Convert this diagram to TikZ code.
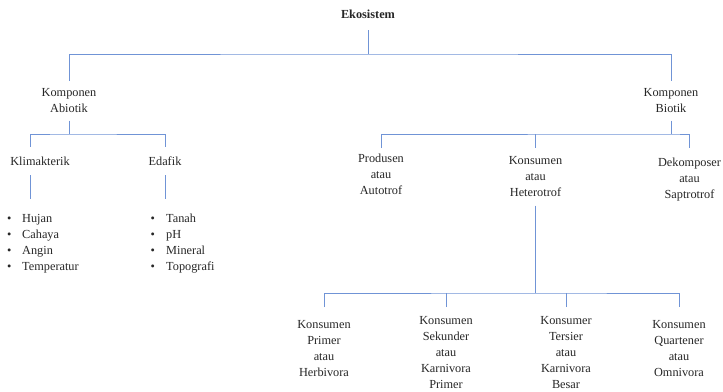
\documentclass[tikz,border=0pt]{standalone}
\usepackage{fontspec}
\setmainfont{Liberation Serif}
\usetikzlibrary{positioning}
\definecolor{treeblue}{RGB}{112,148,214}

\begin{document}
\begin{tikzpicture}[
        x=1pt, y=-1pt,
        txt/.style={align=center, inner sep=0pt, anchor=north, font=\fontsize{12.3}{16}\selectfont, text=black!85},
        list/.style={align=left, inner sep=0pt, anchor=north west, font=\fontsize{12.3}{16}\selectfont, text=black!85},
        link/.style={draw=treeblue, line width=0.9pt}
    ]
        \useasboundingbox (0,0) rectangle (723,391);

        % Root
        \node[txt, outer ysep=12pt] (eko) at (368,-2.5) {\textbf{Ekosistem}};

        % Komponen
        \node[txt, outer ysep=8pt] (abio) at (69,80.5) {Komponen\\Abiotik};
        \node[txt, outer ysep=8pt] (bio) at (671,80.5) {Komponen\\Biotik};

        % Abiotik
        \node[txt, outer ysep=10pt] (klim) at (40,146.5) {Klimakterik};
        \node[txt, outer ysep=10pt] (edaf) at (165,146.5) {Edafik};
        \node[list] (klist) at (7,214) {\makebox[15pt][l]{\textbullet}Hujan\\\makebox[15pt][l]{\textbullet}Cahaya\\\makebox[15pt][l]{\textbullet}Angin\\\makebox[15pt][l]{\textbullet}Temperatur};
        \node[list] (elist) at (150.5,214) {\makebox[15.5pt][l]{\textbullet}Tanah\\\makebox[15.5pt][l]{\textbullet}pH\\\makebox[15.5pt][l]{\textbullet}Mineral\\\makebox[15.5pt][l]{\textbullet}Topografi};

        % Biotik
        \node[txt, outer ysep=5.5pt] (prod) at (381,148) {Produsen\\atau\\Autotrof};
        \node[txt, outer ysep=9pt] (kons) at (535.5,147.5) {Konsumen\\atau\\Heterotrof};
        \node[txt, outer ysep=9.5pt] (dek) at (689.5,148) {Dekomposer\\atau\\Saptrotrof};

        % Konsumen
        \node[txt, outer ysep=13.5pt] (k1) at (324,307) {Konsumen\\Primer\\atau\\Herbivora};
        \node[txt, outer ysep=9.5pt] (k2) at (446,307) {Konsumen\\Sekunder\\atau\\Karnivora\\Primer};
        \node[txt, outer ysep=9pt] (k3) at (566,307) {Konsumer\\Tersier\\atau\\Karnivora\\Besar};
        \node[txt, outer ysep=13.5pt] (k4) at (679,307) {Konsumen\\Quartener\\atau\\Omnivora};

        % junctions
        \coordinate (j0) at (368,54);
        \coordinate (j1) at (69,134);
        \coordinate (j2) at (671,134);
        \coordinate (j3) at (535.5,293);
        \coordinate (klimend) at (30,199);
        \coordinate (edafend) at (165,199);

        \draw[link] (eko.south) -- (j0);
        \draw[link] (abio.north) |- (j0) -| (bio.north);
        \draw[link] (abio.south) -- (j1);
        \draw[link] (klimend |- klim.north) |- (j1) -| (edaf.north);
        \draw[link] (klimend |- klim.south) -- (klimend);
        \draw[link] (edaf.south) -- (edafend);
        \draw[link] (bio.south) -- (j2);
        \draw[link] (prod.north) |- (j2) -| (dek.north);
        \draw[link] (kons.north) -- (kons.north |- j2);
        \draw[link] (kons.south) -- (j3);
        \draw[link] (k1.north) |- (j3) -| (k4.north);
        \draw[link] (k2.north) -- (k2.north |- j3);
        \draw[link] (k3.north) -- (k3.north |- j3);
    \end{tikzpicture}
\end{document}
